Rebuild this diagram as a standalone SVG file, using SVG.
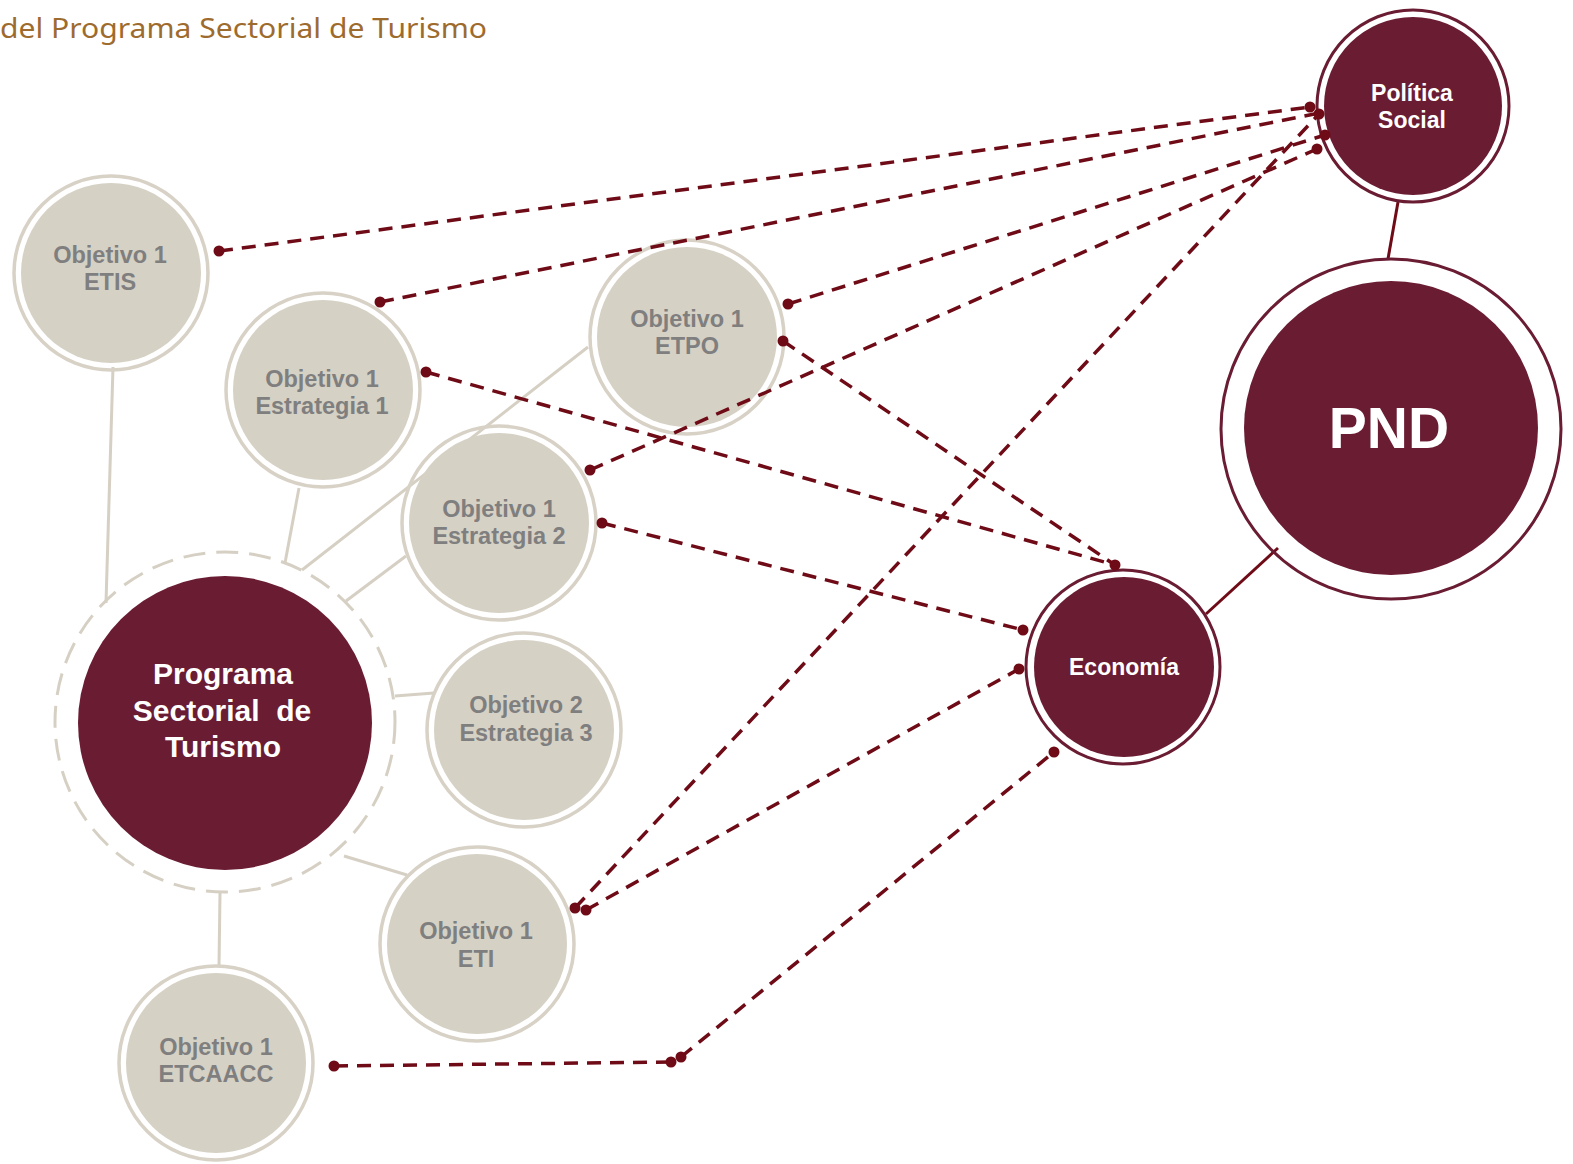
<svg xmlns="http://www.w3.org/2000/svg" width="1573" height="1164" viewBox="0 0 1573 1164">
<defs>
<style>
.title{font-family:"Noto Sans","Open Sans",sans-serif;font-size:28px;fill:#9e6b2e}
.gring{fill:none;stroke:#d7d1c6;stroke-width:3.5}
.gfill{fill:#d6d1c5}
.gtxt{font-family:"Liberation Sans",Arial,sans-serif;font-weight:bold;font-size:23.5px;fill:#7f7f7f;text-anchor:middle}
.dring{fill:none;stroke:#6a1c33;stroke-width:3}
.dfill{fill:#6a1c33}
.wtxt{font-family:"Liberation Sans",Arial,sans-serif;font-weight:bold;fill:#ffffff;text-anchor:middle}
.lc{stroke:#d6d0c4;stroke-width:3;fill:none}
.dc{stroke:#6e0b16;stroke-width:3.5;fill:none;stroke-dasharray:14 9}
.sc{stroke:#6e0b16;stroke-width:3;fill:none}
.dot{fill:#6e0b16}
</style>
</defs>
<rect width="1573" height="1164" fill="#ffffff"/>
<text class="title" x="0" y="38" textLength="487" lengthAdjust="spacingAndGlyphs">del Programa Sectorial de Turismo</text>

<g id="connectors-light">
<line class="lc" x1="113" y1="367" x2="106" y2="603"/>
<line class="lc" x1="299" y1="488" x2="285" y2="563"/>
<line class="lc" x1="588" y1="347" x2="302" y2="570"/>
<line class="lc" x1="406" y1="556" x2="346" y2="601"/>
<line class="lc" x1="395" y1="696" x2="434" y2="693"/>
<line class="lc" x1="344" y1="856" x2="407" y2="875"/>
<line class="lc" x1="220" y1="893" x2="219" y2="967"/>
<line class="sc" x1="1398" y1="202" x2="1388" y2="259"/>
<line class="sc" x1="1278" y1="548" x2="1206" y2="614"/>
</g>

<g id="node-programa">
<circle cx="225" cy="722" r="170" fill="none" stroke="#d6d0c4" stroke-width="3" stroke-dasharray="22 11"/>
<circle class="dfill" cx="225" cy="723" r="147"/>
<text class="wtxt" font-size="30" x="223" y="684">Programa</text>
<text class="wtxt" font-size="30" x="222" y="721" xml:space="preserve">Sectorial  de</text>
<text class="wtxt" font-size="30" x="223" y="757">Turismo</text>
</g>

<g id="node-etis">
<circle class="gring" cx="111" cy="273" r="97"/>
<circle class="gfill" cx="111" cy="273" r="90"/>
<text class="gtxt" x="110" y="263">Objetivo 1</text>
<text class="gtxt" x="110" y="290">ETIS</text>
</g>

<g id="node-estrategia1">
<circle class="gring" cx="323" cy="390" r="97"/>
<circle class="gfill" cx="323" cy="390" r="90"/>
<text class="gtxt" x="322" y="387">Objetivo 1</text>
<text class="gtxt" x="322" y="414">Estrategia 1</text>
</g>

<g id="node-etpo">
<circle class="gring" cx="687" cy="337" r="97"/>
<circle class="gfill" cx="687" cy="337" r="90"/>
<text class="gtxt" x="687" y="327">Objetivo 1</text>
<text class="gtxt" x="687" y="354">ETPO</text>
</g>

<g id="node-estrategia2">
<circle class="gring" cx="499" cy="523" r="97"/>
<circle class="gfill" cx="499" cy="523" r="90"/>
<text class="gtxt" x="499" y="517">Objetivo 1</text>
<text class="gtxt" x="499" y="544">Estrategia 2</text>
</g>

<g id="node-estrategia3">
<circle class="gring" cx="524" cy="730" r="97"/>
<circle class="gfill" cx="524" cy="730" r="90"/>
<text class="gtxt" x="526" y="713">Objetivo 2</text>
<text class="gtxt" x="526" y="741">Estrategia 3</text>
</g>

<g id="node-eti">
<circle class="gring" cx="477" cy="944" r="97"/>
<circle class="gfill" cx="477" cy="944" r="90"/>
<text class="gtxt" x="476" y="939">Objetivo 1</text>
<text class="gtxt" x="476" y="967">ETI</text>
</g>

<g id="node-etcaacc">
<circle class="gring" cx="216" cy="1063" r="97"/>
<circle class="gfill" cx="216" cy="1063" r="90"/>
<text class="gtxt" x="216" y="1055">Objetivo 1</text>
<text class="gtxt" x="216" y="1082">ETCAACC</text>
</g>

<g id="node-politica">
<circle class="dring" cx="1413" cy="106" r="96"/>
<circle class="dfill" cx="1413" cy="106" r="89"/>
<text class="wtxt" font-size="23" x="1412" y="101">Política</text>
<text class="wtxt" font-size="23" x="1412" y="128">Social</text>
</g>

<g id="node-pnd">
<circle class="dring" cx="1391" cy="429" r="170"/>
<circle class="dfill" cx="1391" cy="428" r="147"/>
<text class="wtxt" font-size="57" x="1389" y="448">PND</text>
</g>

<g id="node-economia">
<circle class="dring" cx="1123" cy="667" r="97"/>
<circle class="dfill" cx="1124" cy="667" r="90"/>
<text class="wtxt" font-size="23" x="1124" y="675">Economía</text>
</g>

<g id="connectors">
<line class="dc" x1="219" y1="251" x2="1310" y2="107"/>
<line class="dc" x1="380" y1="302" x2="1319" y2="113"/>
<line class="dc" x1="788" y1="304" x2="1325" y2="135"/>
<line class="dc" x1="590" y1="470" x2="1317" y2="149"/>
<line class="dc" x1="575" y1="908" x2="1319" y2="114"/>
<line class="dc" x1="426" y1="372" x2="1115" y2="565"/>
<line class="dc" x1="783" y1="341" x2="1115" y2="565"/>
<line class="dc" x1="602" y1="523" x2="1023" y2="630"/>
<line class="dc" x1="586" y1="910" x2="1019" y2="669"/>
<line class="dc" x1="334" y1="1066" x2="671" y2="1062"/>
<line class="dc" x1="681" y1="1057" x2="1054" y2="752"/>
<circle class="dot" cx="219" cy="251" r="5.5"/>
<circle class="dot" cx="380" cy="302" r="5.5"/>
<circle class="dot" cx="788" cy="304" r="5.5"/>
<circle class="dot" cx="590" cy="470" r="5.5"/>
<circle class="dot" cx="575" cy="908" r="5.5"/>
<circle class="dot" cx="586" cy="910" r="5.5"/>
<circle class="dot" cx="426" cy="372" r="5.5"/>
<circle class="dot" cx="783" cy="341" r="5.5"/>
<circle class="dot" cx="602" cy="523" r="5.5"/>
<circle class="dot" cx="334" cy="1066" r="5.5"/>
<circle class="dot" cx="671" cy="1062" r="5.5"/>
<circle class="dot" cx="681" cy="1057" r="5.5"/>
<circle class="dot" cx="1310" cy="107" r="5.5"/>
<circle class="dot" cx="1319" cy="114" r="5.5"/>
<circle class="dot" cx="1325" cy="135" r="5.5"/>
<circle class="dot" cx="1317" cy="149" r="5.5"/>
<circle class="dot" cx="1115" cy="565" r="5.5"/>
<circle class="dot" cx="1023" cy="630" r="5.5"/>
<circle class="dot" cx="1019" cy="669" r="5.5"/>
<circle class="dot" cx="1054" cy="752" r="5.5"/>
</g>
</svg>
